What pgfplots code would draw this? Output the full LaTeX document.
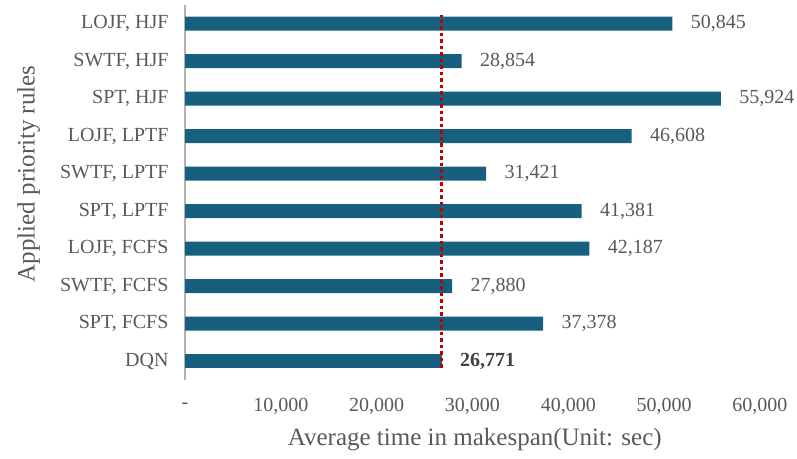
\documentclass[border=0pt]{standalone}
\usepackage{pgfplots}
\pgfplotsset{compat=1.18}
\usepackage{fontspec}
\setmainfont{Liberation Serif}
\definecolor{barc}{HTML}{175F7F}
\definecolor{redl}{HTML}{C00000}
\definecolor{txt}{HTML}{595959}
\definecolor{txtd}{HTML}{404040}
\begin{document}
\begin{tikzpicture}
\useasboundingbox (0,0) rectangle (797bp,459bp);
\begin{axis}[
  at={(185bp,79bp)}, anchor=south west,
  width=575bp, height=375bp, scale only axis,
  xmin=0, xmax=60000, ymin=-0.5, ymax=9.5,
  xbar, bar width=14bp, bar shift=0pt,
  axis lines*=left,
  x axis line style={draw=none},
  y axis line style={draw=black!30, line width=1.5bp, -},
  major tick length=0pt,
  scaled x ticks=false,
  xtick={0,10000,20000,30000,40000,50000,60000},
  xticklabels={-, {10,000}, {20,000}, {30,000}, {40,000}, {50,000}, {60,000}},
  ytick={0,...,9},
  yticklabels={DQN, {SPT, FCFS}, {SWTF, FCFS}, {LOJF, FCFS}, {SPT, LPTF}, {SWTF, LPTF}, {LOJF, LPTF}, {SPT, HJF}, {SWTF, HJF}, {LOJF, HJF}},
  ticklabel style={font=\fontsize{20bp}{24bp}\selectfont, text=txt},
  xticklabel style={anchor=center, yshift=-26bp},
  yticklabel style={xshift=-13bp},
  xlabel={Average time in makespan(Unit: sec)},
  ylabel={Applied priority rules},
  x label style={at={(axis description cs:0.504,-0.16)}, anchor=center, font=\fontsize{25bp}{30bp}\selectfont, text=txt},
  y label style={at={(axis description cs:-0.272,0.55)}, rotate=0, anchor=center, font=\fontsize{25bp}{30bp}\selectfont, text=txt},
  /pgf/number format/assume math mode=true,
  /pgf/number format/.cd, fixed, precision=0, 1000 sep={,},
]
\addplot[fill=barc, draw=none,
  nodes near coords, point meta=x,
  every node near coord/.style={anchor=west, xshift=15bp, font=\fontsize{20bp}{24bp}\selectfont, text=txt}]
  coordinates {(37378,1) (27880,2) (42187,3) (41381,4) (31421,5) (46608,6) (55924,7) (28854,8) (50845,9)};
\addplot[fill=barc, draw=none,
  nodes near coords, point meta=x,
  every node near coord/.style={anchor=west, xshift=15bp, font=\fontsize{20bp}{24bp}\selectfont\bfseries, text=txtd}]
  coordinates {(26771,0)};
\addplot[xbar=0pt, sharp plot, redl, line width=3.5bp, dash pattern=on 3.5bp off 3bp] coordinates {(26771,-0.17) (26771,9.23)};
\end{axis}
\end{tikzpicture}
\end{document}
